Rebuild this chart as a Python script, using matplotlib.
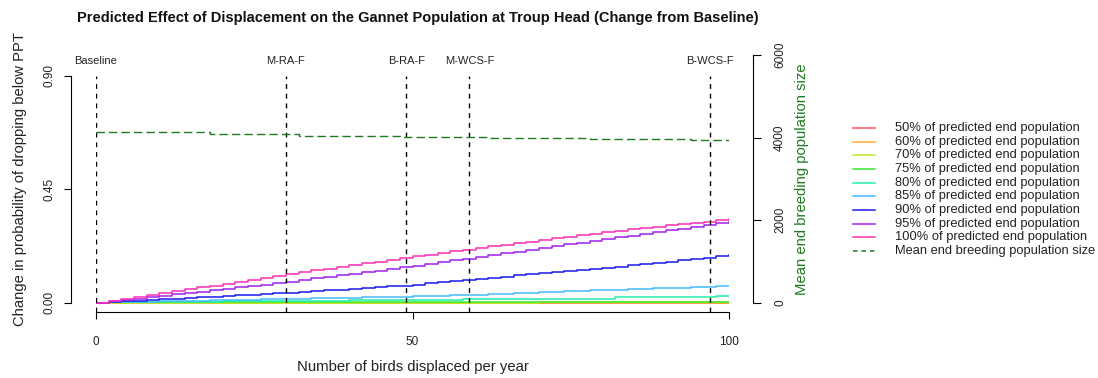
import matplotlib
matplotlib.use('Agg')
import matplotlib.pyplot as plt
from matplotlib.lines import Line2D

plt.rcParams['font.family'] = ['Liberation Sans', 'DejaVu Sans']

W, H = 1098, 378

# number of birds displaced per year
birds = list(range(0, 101, 2))

# change in probability of dropping below PPT, per threshold
p50 = [0.0, 0.0, 0.0, 0.0, 0.0, 0.0, 0.0, 0.0, 0.0, 0.0, 0.0, 0.0, 0.0,
       0.0, 0.0, 0.0, 0.0, 0.0, 0.0, 0.0, 0.0, 0.0, 0.0, 0.0, 0.0, 0.0,
       0.0, 0.0, 0.0, 0.0, 0.0, 0.0, 0.0, 0.0, 0.0, 0.0, 0.0, 0.0, 0.0,
       0.0, 0.0, 0.0, 0.0, 0.0, 0.0, 0.0, 0.0, 0.0, 0.0, 0.0, 0.0]
p60 = [0.0, 0.0, 0.0, 0.0, 0.0, 0.0, 0.0, 0.0, 0.0, 0.0, 0.0, 0.0, 0.0,
       0.0, 0.0, 0.0, 0.0, 0.0, 0.0, 0.0, 0.0, 0.0, 0.0, 0.0, 0.0, 0.0,
       0.0, 0.0, 0.0, 0.0, 0.0, 0.0, 0.0, 0.0, 0.0, 0.0, 0.0, 0.0, 0.0,
       0.0, 0.0, 0.0, 0.0, 0.0, 0.0, 0.0, 0.0, 0.0, 0.0, 0.0, 0.0]
p70 = [0.0, 0.0, 0.0, 0.0, 0.0, 0.0, 0.0, 0.0, 0.0, 0.0, 0.0, 0.0, 0.0,
       0.0, 0.0, 0.0, 0.0, 0.0, 0.0, 0.0, 0.0, 0.0, 0.0, 0.0, 0.0, 0.0,
       0.0, 0.0, 0.0, 0.0, 0.0, 0.0, 0.0, 0.0, 0.0, 0.002, 0.002, 0.002, 0.002,
       0.002, 0.002, 0.002, 0.002, 0.002, 0.002, 0.002, 0.002, 0.002, 0.002, 0.002, 0.002]
p75 = [0.0, 0.002, 0.002, 0.002, 0.002, 0.002, 0.002, 0.002, 0.002, 0.002, 0.002,
       0.002, 0.002, 0.002, 0.002, 0.002, 0.002, 0.002, 0.002, 0.002, 0.002,
       0.002, 0.002, 0.002, 0.002, 0.002, 0.002, 0.002, 0.002, 0.002, 0.002,
       0.003, 0.003, 0.003, 0.003, 0.003, 0.003, 0.003, 0.003, 0.003, 0.003,
       0.003, 0.003, 0.003, 0.003, 0.003, 0.003, 0.003, 0.003, 0.003, 0.003]
p80 = [0.0, 0.004, 0.004, 0.004, 0.004, 0.004, 0.004, 0.004, 0.004, 0.004,
       0.007, 0.007, 0.007, 0.007, 0.007, 0.007, 0.007, 0.007, 0.007, 0.007,
       0.010, 0.010, 0.010, 0.010, 0.010, 0.010, 0.010, 0.010, 0.010,
       0.015, 0.015, 0.015, 0.015, 0.015, 0.015, 0.015, 0.015, 0.015, 0.015, 0.015, 0.015,
       0.021, 0.021, 0.021, 0.021, 0.021, 0.021, 0.021, 0.021,
       0.026, 0.026]
p85 = [0.0, 0.001, 0.002, 0.003, 0.004, 0.005, 0.006, 0.007, 0.008, 0.009, 0.010,
       0.011, 0.012, 0.013, 0.014, 0.015, 0.016, 0.017, 0.018, 0.019, 0.020,
       0.021, 0.022, 0.023, 0.024, 0.025, 0.026, 0.027, 0.029, 0.030, 0.032,
       0.034, 0.035, 0.037, 0.039, 0.041, 0.043, 0.045, 0.047, 0.049, 0.050,
       0.052, 0.054, 0.055, 0.057, 0.059, 0.060, 0.062, 0.064, 0.065, 0.067]
p90 = [0.0, 0.003, 0.005, 0.008, 0.011, 0.013, 0.016, 0.019, 0.021, 0.024, 0.027,
       0.029, 0.032, 0.035, 0.037, 0.040, 0.043, 0.046, 0.049, 0.052, 0.055,
       0.058, 0.062, 0.065, 0.068, 0.072, 0.077, 0.081, 0.086, 0.090, 0.095,
       0.099, 0.103, 0.108, 0.112, 0.116, 0.121, 0.125, 0.129, 0.134, 0.138,
       0.143, 0.148, 0.153, 0.158, 0.163, 0.168, 0.173, 0.179, 0.184, 0.189]
p95 = [0.0, 0.005, 0.011, 0.016, 0.022, 0.027, 0.033, 0.038, 0.044, 0.050, 0.055,
       0.061, 0.066, 0.072, 0.077, 0.083, 0.089, 0.096, 0.102, 0.108, 0.115,
       0.121, 0.127, 0.134, 0.140, 0.146, 0.153, 0.160, 0.168, 0.175, 0.182,
       0.189, 0.196, 0.203, 0.210, 0.217, 0.224, 0.231, 0.238, 0.245, 0.252,
       0.259, 0.266, 0.273, 0.280, 0.287, 0.294, 0.301, 0.308, 0.315, 0.322]
p100 = [0.0, 0.008, 0.015, 0.023, 0.030, 0.038, 0.046, 0.053, 0.061, 0.068, 0.076,
        0.084, 0.091, 0.099, 0.106, 0.114, 0.121, 0.128, 0.135, 0.142, 0.149,
        0.156, 0.163, 0.170, 0.177, 0.184, 0.191, 0.197, 0.204, 0.211, 0.217,
        0.223, 0.230, 0.236, 0.242, 0.249, 0.255, 0.261, 0.267, 0.274, 0.280,
        0.285, 0.291, 0.296, 0.301, 0.307, 0.312, 0.317, 0.322, 0.328, 0.333]

# mean end breeding population size
pop = [4128, 4128, 4128, 4128, 4128, 4128, 4128, 4128, 4128,
       4085, 4085, 4085, 4085, 4085, 4085, 4085,
       4046, 4046, 4046, 4046, 4046, 4046, 4046, 4046,
       4020, 4020, 4020, 4020, 4020, 4020, 4020,
       3995, 3995, 3995, 3995, 3995, 3995, 3995, 3995,
       3965, 3965, 3965, 3965, 3965, 3965, 3965, 3965,
       3935, 3935, 3935, 3935]

series = [p50, p60, p70, p75, p80, p85, p90, p95, p100]
labels = ['50% of predicted end population', '60% of predicted end population',
          '70% of predicted end population', '75% of predicted end population',
          '80% of predicted end population', '85% of predicted end population',
          '90% of predicted end population', '95% of predicted end population',
          '100% of predicted end population']
colors = ['#FF5555', '#FFAA33', '#BBEE22', '#33EE33', '#22EEAA',
          '#44BBFF', '#1A1AEE', '#A020F0', '#FF2DB4']
pop_color = '#1E7B1E'

scenarios = ['Baseline', 'M-RA-F', 'B-RA-F', 'M-WCS-F', 'B-WCS-F']
scenario_x = [0, 30, 49, 59, 97]

fig = plt.figure(figsize=(W / 100, H / 100), dpi=100)
ax = fig.add_axes([96 / W, 1 - 312 / H, 633 / W, 257 / H])
ax2 = ax.twinx()

for ys, c in zip(series, colors):
    ax.plot(birds, ys, color=c, lw=1.1, drawstyle='steps-post')

ax2.plot(birds, pop, color=pop_color, lw=1.0, ls=(0, (6, 3)), drawstyle='steps-post')

ax.set_xlim(0, 100)
ax.set_ylim(-0.037, 0.983)
ax2.set_ylim(-225, 6000)

ax.vlines(scenario_x, -0.037, 0.9, colors='black', lw=1.0, linestyles=(0, (3.5, 3.5)))
for name, xv in zip(scenarios, scenario_x):
    ax.text(xv, 0.96, name, ha='center', va='center', fontsize=8, color='#222222')

for a in (ax, ax2):
    a.spines['top'].set_visible(False)
    a.patch.set_visible(False)
ax.spines['right'].set_visible(False)
ax2.spines['left'].set_visible(False)
ax2.spines['bottom'].set_visible(False)

ax.spines['left'].set_position(('outward', 18))
ax.spines['left'].set_bounds(0, 0.9)
ax.spines['bottom'].set_bounds(0, 100)
ax2.spines['right'].set_position(('outward', 17.5))
ax2.spines['right'].set_bounds(0, 6000)

ax.set_xticks([0, 50, 100])
ax.set_yticks([0, 0.45, 0.9])
ax.set_yticklabels(['0.00', '0.45', '0.90'])
ax2.set_yticks([0, 2000, 4000, 6000])

ax.tick_params(axis='x', length=5, width=0.8, labelsize=8.5, pad=12, labelcolor='#222222')
ax.tick_params(axis='y', length=5, width=0.8, labelsize=8.5, pad=6, labelcolor='#222222')
ax2.tick_params(axis='y', length=6, width=0.8, labelsize=8.5, pad=9, labelcolor='#222222')
plt.setp(ax.get_yticklabels(), rotation=90, va='center')
plt.setp(ax2.get_yticklabels(), rotation=90, va='center')

ax.set_xlabel('Number of birds displaced per year', fontsize=10.7, color='#222222', va='center')
ax.xaxis.set_label_coords(0.5, -(367 - 312) / 257)
ax.set_ylabel('Change in probability of dropping below PPT', fontsize=10.6, color='#222222', va='center')
ax.yaxis.set_label_coords(-(96 - 20) / 633, (312 - 179) / 257)
ax2.set_ylabel('Mean end breeding population size', fontsize=10.7, color=pop_color, va='center')
ax2.yaxis.set_label_coords(1 + (802 - 729) / 633, (312 - 179) / 257)

fig.text(418 / W, 1 - 18 / H,
         'Predicted Effect of Displacement on the Gannet Population at Troup Head (Change from Baseline)',
         ha='center', va='center', fontsize=10.5, fontweight='bold', color='#111111')

# legend drawn by hand at the right
leg_labels = labels + ['Mean end breeding population size']
leg_colors = colors + [pop_color]
for i, (lab, c) in enumerate(zip(leg_labels, leg_colors)):
    yy = 1 - (128 + 13.67 * i) / H
    ls = (0, (3, 2.5)) if i == len(labels) else '-'
    fig.add_artist(Line2D([853 / W, 875 / W], [yy, yy], color=c, lw=1.1, ls=ls))
    fig.text(895 / W, yy, lab, ha='left', va='center', fontsize=9.3, color='#222222')

fig.savefig('out.png', dpi=100)
